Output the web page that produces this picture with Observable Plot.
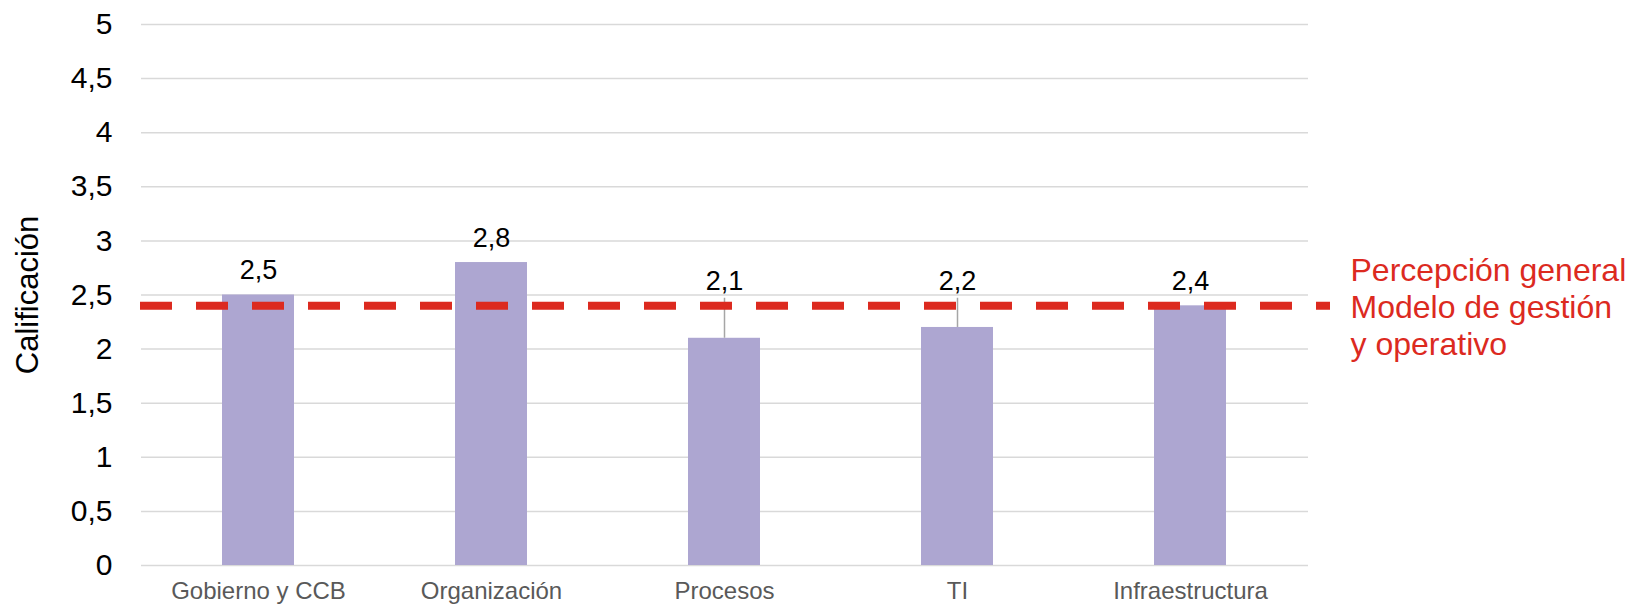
<!DOCTYPE html>
<html>
<head>
<meta charset="utf-8">
<script src="https://cdn.jsdelivr.net/npm/d3@7"></script>
<script src="https://cdn.jsdelivr.net/npm/@observablehq/plot@0.6"></script>
<style>
  html, body { margin: 0; padding: 0; background: #fff; }
  svg { font-family: "Liberation Sans", Arial, sans-serif; }
</style>
</head>
<body>
<div id="chart"></div>
<script>
const categories = ["Gobierno y CCB", "Organización", "Procesos", "TI", "Infraestructura"];
const values = [2.5, 2.8, 2.1, 2.2, 2.4];
const errorTop = [null, null, 2.47, 2.47, null];
const generalValue = 2.4;
const generalLabel = "Percepción general\nModelo de gestión\ny operativo";
const yTicks = [0, 0.5, 1, 1.5, 2, 2.5, 3, 3.5, 4, 4.5, 5];
const yTitle = "Calificación";

const fmt = v => String(v).replace(".", ",");
const data = categories.map((c, i) => ({cat: c, value: values[i], err: errorTop[i]}));
const errData = data.filter(d => d.err != null);
const plainData = data.filter(d => d.err == null);

const chart = Plot.plot({
  width: 1625,
  height: 607,
  marginLeft: 141,
  marginRight: 317,
  marginTop: 24,
  marginBottom: 42,
  style: {fontFamily: "'Liberation Sans', Arial, sans-serif", background: "#fff"},
  x: {domain: categories, paddingInner: 0.69, paddingOuter: 0.345, label: null},
  y: {domain: [0, 5], ticks: yTicks, label: null, tickFormat: fmt},
  marks: [
    Plot.ruleY(yTicks, {stroke: "#D9D9D9", strokeWidth: 1.5}),
    Plot.axisY({ticks: yTicks, tickSize: 0, tickPadding: 29, tickFormat: fmt, fontSize: 30, fill: "#000", label: null}),
    Plot.axisX({tickSize: 0, tickPadding: 16, fontSize: 24, fill: "#595959", label: null}),
    Plot.barY(data, {x: "cat", y: "value", fill: "#ADA6D1"}),
    Plot.ruleX(errData, {x: "cat", y1: "value", y2: "err", stroke: "#A6A6A6", strokeWidth: 1.5}),
    Plot.text(plainData, {x: "cat", y: "value", text: d => fmt(d.value), lineAnchor: "bottom", dy: -16, fontSize: 27, fill: "#000"}),
    Plot.text(errData, {x: "cat", y: "err", text: d => fmt(d.value), lineAnchor: "bottom", dy: -8, fontSize: 27, fill: "#000"}),
    Plot.ruleY([generalValue], {stroke: "#DC2A1F", strokeWidth: 8, strokeDasharray: "32,24", insetLeft: -1, insetRight: -22}),
    Plot.text([generalLabel], {frameAnchor: "right", y: [generalValue], text: d => d, dx: 42, textAnchor: "start", lineAnchor: "middle", lineHeight: 1.16, fontSize: 32, fill: "#DC2A1F"}),
    Plot.text([yTitle], {frameAnchor: "left", text: d => d, rotate: -90, dx: -113, textAnchor: "middle", lineAnchor: "middle", fontSize: 31, fill: "#000"})
  ]
});
document.getElementById("chart").appendChild(chart);
</script>
</body>
</html>
